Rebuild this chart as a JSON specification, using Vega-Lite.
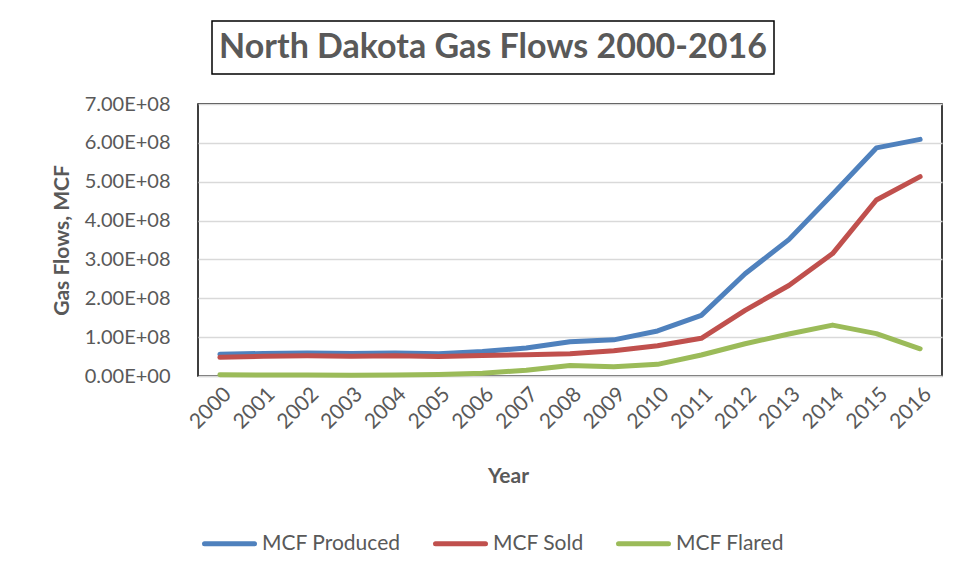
{
  "$schema": "https://vega.github.io/schema/vega-lite/v6.json",
  "padding": {"left": 50, "top": 20, "right": 10, "bottom": 10},
  "background": "white",
  "spacing": 18,
  "columns": 1,
  "align": "none",
  "config": {
    "font": "Lato",
    "view": {"stroke": "#000000", "strokeWidth": 1.5}
  },
  "resolve": {"legend": {"color": "independent"}},
  "concat": [
    {
      "hconcat": [
        {
          "width": 1,
          "height": 53,
          "view": {"stroke": null},
          "data": {"values": []},
          "mark": {"type": "text"},
          "encoding": {}
        },
        {
          "width": 562,
          "height": 53,
          "view": {"stroke": "#000000", "strokeWidth": 1.5, "fill": "white"},
          "data": {"values": [{"title": "North Dakota Gas Flows 2000-2016", "px": 0.5, "py": 0.5}]},
          "mark": {"type": "text", "font": "Lato", "fontWeight": "bold", "fontSize": 34, "color": "#595959"},
          "encoding": {
            "x": {"field": "px", "type": "quantitative", "scale": {"domain": [0, 1]}, "axis": null},
            "y": {"field": "py", "type": "quantitative", "scale": {"domain": [0, 1]}, "axis": null},
            "text": {"field": "title", "type": "nominal"}
          }
        }
      ],
      "spacing": 12
    },
    {
      "width": 744,
      "height": 272,
      "data": {"values": [
        {"year": "2000", "series": "MCF Produced", "value": 56000000},
        {"year": "2001", "series": "MCF Produced", "value": 58000000},
        {"year": "2002", "series": "MCF Produced", "value": 59000000},
        {"year": "2003", "series": "MCF Produced", "value": 58000000},
        {"year": "2004", "series": "MCF Produced", "value": 59000000},
        {"year": "2005", "series": "MCF Produced", "value": 57000000},
        {"year": "2006", "series": "MCF Produced", "value": 63000000},
        {"year": "2007", "series": "MCF Produced", "value": 72000000},
        {"year": "2008", "series": "MCF Produced", "value": 88000000},
        {"year": "2009", "series": "MCF Produced", "value": 93000000},
        {"year": "2010", "series": "MCF Produced", "value": 116000000},
        {"year": "2011", "series": "MCF Produced", "value": 156000000},
        {"year": "2012", "series": "MCF Produced", "value": 263000000},
        {"year": "2013", "series": "MCF Produced", "value": 351000000},
        {"year": "2014", "series": "MCF Produced", "value": 468000000},
        {"year": "2015", "series": "MCF Produced", "value": 587000000},
        {"year": "2016", "series": "MCF Produced", "value": 609000000},
        {"year": "2000", "series": "MCF Sold", "value": 48000000},
        {"year": "2001", "series": "MCF Sold", "value": 51000000},
        {"year": "2002", "series": "MCF Sold", "value": 52000000},
        {"year": "2003", "series": "MCF Sold", "value": 51000000},
        {"year": "2004", "series": "MCF Sold", "value": 52000000},
        {"year": "2005", "series": "MCF Sold", "value": 50000000},
        {"year": "2006", "series": "MCF Sold", "value": 53000000},
        {"year": "2007", "series": "MCF Sold", "value": 55000000},
        {"year": "2008", "series": "MCF Sold", "value": 57000000},
        {"year": "2009", "series": "MCF Sold", "value": 65000000},
        {"year": "2010", "series": "MCF Sold", "value": 78000000},
        {"year": "2011", "series": "MCF Sold", "value": 97000000},
        {"year": "2012", "series": "MCF Sold", "value": 169000000},
        {"year": "2013", "series": "MCF Sold", "value": 233000000},
        {"year": "2014", "series": "MCF Sold", "value": 315000000},
        {"year": "2015", "series": "MCF Sold", "value": 453000000},
        {"year": "2016", "series": "MCF Sold", "value": 513000000},
        {"year": "2000", "series": "MCF Flared", "value": 3000000},
        {"year": "2001", "series": "MCF Flared", "value": 2500000},
        {"year": "2002", "series": "MCF Flared", "value": 2500000},
        {"year": "2003", "series": "MCF Flared", "value": 2000000},
        {"year": "2004", "series": "MCF Flared", "value": 2500000},
        {"year": "2005", "series": "MCF Flared", "value": 4000000},
        {"year": "2006", "series": "MCF Flared", "value": 7000000},
        {"year": "2007", "series": "MCF Flared", "value": 15000000},
        {"year": "2008", "series": "MCF Flared", "value": 27000000},
        {"year": "2009", "series": "MCF Flared", "value": 24000000},
        {"year": "2010", "series": "MCF Flared", "value": 30000000},
        {"year": "2011", "series": "MCF Flared", "value": 54000000},
        {"year": "2012", "series": "MCF Flared", "value": 83000000},
        {"year": "2013", "series": "MCF Flared", "value": 108000000},
        {"year": "2014", "series": "MCF Flared", "value": 131000000},
        {"year": "2015", "series": "MCF Flared", "value": 109000000},
        {"year": "2016", "series": "MCF Flared", "value": 70000000}
      ]},
      "mark": {"type": "line", "strokeWidth": 5, "strokeCap": "round", "strokeJoin": "round"},
      "encoding": {
        "x": {
          "field": "year", "type": "ordinal",
          "scale": {"type": "point", "padding": 0.5},
          "axis": {
            "title": "Year", "titleFont": "Lato", "titleFontSize": 21, "titleFontWeight": "bold",
            "titleColor": "#595959", "titlePadding": 33, "titleX": 310,
            "labelAngle": -45, "labelFont": "Lato", "labelFontSize": 21, "labelColor": "#595959",
            "labelPadding": 7, "ticks": false, "tickSize": 0,
            "domainColor": "#D9D9D9", "domainWidth": 1.5, "grid": false
          }
        },
        "y": {
          "field": "value", "type": "quantitative",
          "scale": {"domain": [0, 700000000], "nice": false},
          "axis": {
            "title": "Gas Flows, MCF", "titleFont": "Lato", "titleFontSize": 21, "titleFontWeight": "bold",
            "titleColor": "#595959", "titlePadding": 12,
            "values": [0, 100000000, 200000000, 300000000, 400000000, 500000000, 600000000, 700000000],
            "labelExpr": "replace(format(datum.value, '.2e'), 'e+', 'E+0')",
            "labelFont": "Lato", "labelFontSize": 20, "labelColor": "#595959",
            "labelPadding": 28, "ticks": false, "tickSize": 0, "domain": false,
            "gridColor": "#D9D9D9", "gridWidth": 1.5
          }
        },
        "color": {
          "field": "series", "type": "nominal",
          "scale": {"domain": ["MCF Produced", "MCF Sold", "MCF Flared"], "range": ["#4F81BD", "#C0504D", "#9BBB59"]},
          "legend": {
            "title": null, "orient": "bottom", "direction": "horizontal", "offset": 25, "padding": 4,
            "symbolType": "stroke", "symbolSize": 2500, "symbolStrokeWidth": 5,
            "labelFont": "Lato", "labelFontSize": 21, "labelColor": "#595959",
            "labelOffset": 5, "columnPadding": 24,
            "encode": {"symbols": {"update": {"strokeCap": {"value": "round"}}}}
          }
        }
      }
    }
  ]
}
